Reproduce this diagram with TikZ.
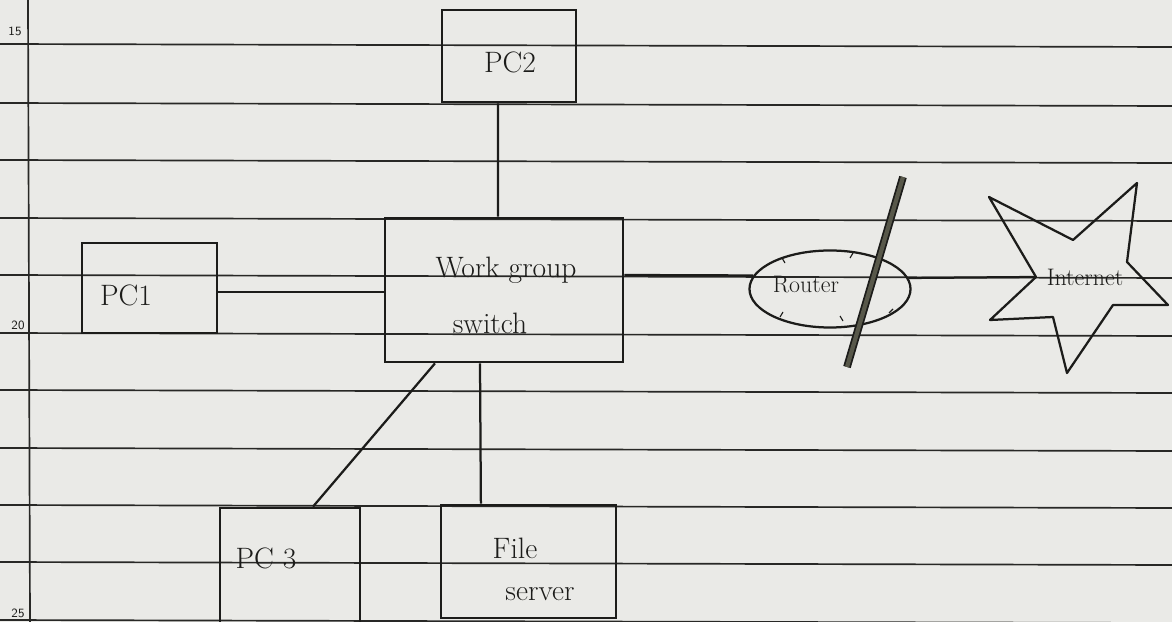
\documentclass[tikz,border=0pt]{standalone}
\usetikzlibrary{shapes.geometric}
\definecolor{paper}{RGB}{234,234,231}
\definecolor{ink}{RGB}{28,28,26}
\definecolor{rule}{RGB}{40,40,38}
\definecolor{pencil}{RGB}{88,88,74}
\begin{document}
\begin{tikzpicture}[x=0.025cm,y=-0.025cm,
  box/.style={draw=ink,line width=1.9pt,minimum width=#1},
  conn/.style={draw=ink,line width=1.6pt},
  ruled/.style={draw=rule,line width=1.2pt},
  lbl/.style={text=ink,font=\fontsize{21}{23}\selectfont,inner sep=0pt},
  small/.style={text=ink,font=\fontsize{17}{19}\selectfont,inner sep=0pt},
  pagenum/.style={text=ink,font=\sffamily\fontsize{9}{10}\selectfont,inner sep=0pt}]
\fill[paper] (0,0) rectangle (1172,622);
\clip (0,0) rectangle (1172,622);
% ruled paper
\foreach \y in {44,103,160,218,275,333,390,448,505,562,620}
  \draw[ruled] (0,\y) -- (1172,\y+3);
\draw[ruled] (28,0) -- (30,622);
\node[pagenum] (n15) at (15,31) {15};
\node[pagenum] (n20) at (18,325) {20};
\node[pagenum] (n25) at (18,613) {25};
% boxes
\node[box=3.35cm,minimum height=2.3cm] (pc2) at (509,56) {};
\node[box=3.375cm,minimum height=2.25cm] (pc1) at (149.5,288) {};
\node[box=5.95cm,minimum height=3.6cm] (sw) at (504,290) {};
\node[box=3.5cm,minimum height=3.1cm] (pc3) at (290,570) {};
\node[box=4.375cm,minimum height=2.825cm] (fs) at (528.5,561.5) {};
\node[draw=ink,line width=1.6pt,ellipse,minimum width=4.025cm,minimum height=1.925cm,inner sep=0pt] (rt) at (830,289) {};
% labels
\node[lbl] (tpc2) at (510,62) {PC2};
\node[lbl] (tpc1) at (126,295) {PC1};
\node[lbl] (tsw1) at (506,270) {Work group};
\node[lbl] (tsw2) at (490,323) {switch};
\node[lbl] (tpc3) at (266,558) {PC 3};
\node[lbl] (tfs1) at (515,548) {File};
\node[lbl] (tfs2) at (540,594) {server};
\node[small] (trt) at (806,285) {Router};
% internet star
\coordinate (s1) at (989,197);
\coordinate (s2) at (1073,240);
\coordinate (s3) at (1137,183);
\coordinate (s4) at (1127,262);
\coordinate (s5) at (1168,305);
\coordinate (s6) at (1113,305);
\coordinate (s7) at (1067,373);
\coordinate (s8) at (1053,317);
\coordinate (s9) at (990,320);
\coordinate (inet) at (1036,277);
\draw[ink,line width=1.6pt,line join=round] (s1) -- (s2) -- (s3) -- (s4) -- (s5) -- (s6) -- (s7) -- (s8) -- (s9) -- (inet) -- cycle;
\node[small] (tinet) at (1085,277) {Internet};
% connectors
\draw[conn] ([xshift=-0.275cm]pc2.south) -- ([xshift=-0.15cm]sw.north);
\draw[conn] ([yshift=-0.1cm]pc1.east) -- ([yshift=-0.1cm]pc1.east -| sw.west);
\draw[conn] ([yshift=0.375cm]sw.east) -- (rt.170);
\draw[conn] (rt.8) -- (inet);
\draw[conn] ([xshift=-1.725cm]sw.south) -- ([xshift=0.575cm]pc3.north);
\draw[conn] ([xshift=-0.6cm]sw.south) -- ([xshift=-1.19cm]fs.north);
% router tick marks
\draw[ink,line width=0.8pt] (782,258) -- (785,263);
\draw[ink,line width=0.8pt] (853,253) -- (850,258);
\draw[ink,line width=0.8pt] (780,317) -- (783,312);
\draw[ink,line width=0.8pt] (840,316) -- (843,321);
\draw[ink,line width=0.8pt] (893,309) -- (889,313);
% strike-through line over router
\coordinate (k1) at (903,177);
\coordinate (k2) at (847,367);
\draw[ink,line width=5.5pt] (k1) -- (k2);
\draw[pencil,line width=3pt] (k1) -- (k2);
\end{tikzpicture}
\end{document}
